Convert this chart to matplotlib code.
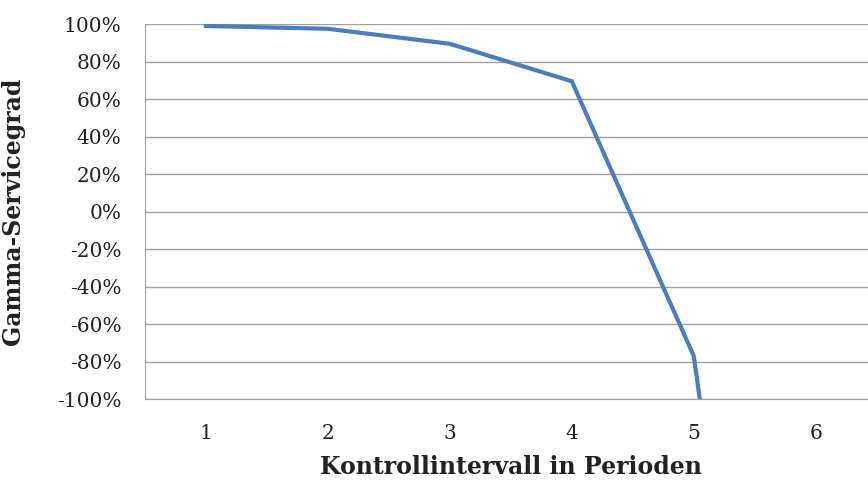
import matplotlib.pyplot as plt
from matplotlib.ticker import FuncFormatter

# Kontrollintervall (Perioden) und Gamma-Servicegrad in %
perioden = [1, 2, 3, 4, 5, 6]
servicegrad = [99, 97.5, 89.5, 69.5, -77, -540]
y_ticks = list(range(-100, 101, 20))

plt.rcParams['font.family'] = ['DejaVu Serif']

fig = plt.figure(figsize=(8.68, 4.82), dpi=100)
ax = fig.add_axes([0.167, 0.172, 0.843, 0.778])

ax.plot(perioden, servicegrad, color='#4a7ebb', linewidth=3, solid_joinstyle='miter')

ax.set_xlim(0.5, 6.5)
ax.set_ylim(-100, 100)
ax.set_yticks(y_ticks)
ax.yaxis.set_major_formatter(FuncFormatter(lambda v, p: f'{int(v)}%'))
ax.set_xticks(perioden)

ax.grid(axis='y', color='#a0a0a0', linewidth=1)
ax.set_axisbelow(True)
for s in ['top', 'right']:
    ax.spines[s].set_visible(False)
ax.spines['left'].set_color('#a0a0a0')
ax.spines['bottom'].set_color('#a0a0a0')
ax.tick_params(length=0, labelsize=14.5, colors='#222222')
ax.tick_params(axis='x', pad=18)
ax.tick_params(axis='y', pad=17)

ax.set_xlabel('Kontrollintervall in Perioden', fontsize=17, fontweight='bold', color='#222222')
ax.set_ylabel('Gamma-Servicegrad', fontsize=17, fontweight='bold', color='#222222')
ax.xaxis.set_label_coords(0.5, -0.15)
ax.yaxis.set_label_coords(-0.164, 0.5)

fig.savefig('out.png', dpi=100)
